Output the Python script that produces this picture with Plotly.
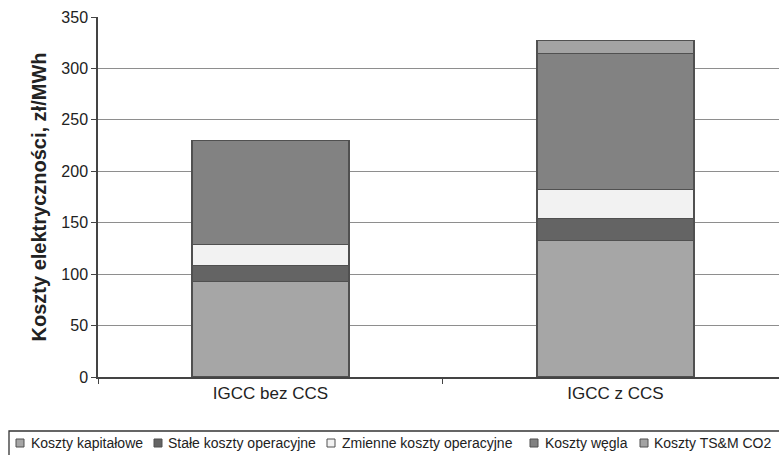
import plotly.graph_objects as go

categories = ["IGCC bez CCS", "IGCC z CCS"]
series_names = ["Koszty kapitałowe", "Stałe koszty operacyjne", "Zmienne koszty operacyjne", "Koszty węgla", "Koszty TS&M CO2"]
kapitalowe = [93, 133]
stale = [15.5, 21]
zmienne = [20, 28.5]
wegiel = [101.5, 132]
tsm = [0, 12.5]
y_ticks = [0, 50, 100, 150, 200, 250, 300, 350]

values = [kapitalowe, stale, zmienne, wegiel, tsm]
colors = ["#a6a6a6", "#646464", "#f2f2f2", "#828282", "#a3a3a3"]

W, H = 779, 455
L, R, T, B = 98, 0, 17, 78
PW, PH = W - L - R, H - T - B

def px(x):
    return (x - L) / PW

def py(y):
    return (H - B - y) / PH

fig = go.Figure()
for name, vals, c in zip(series_names, values, colors):
    fig.add_trace(go.Bar(
        x=categories, y=vals, name=name, width=0.455,
        marker=dict(color=c, line=dict(color="#505050", width=1.2)),
    ))

# manual legend (single row, boxed)
legend_sq = [20, 158, 331, 534, 644]
legend_tx = [29, 166, 340, 543, 652]
ly = 443
shapes = [dict(type="rect", xref="paper", yref="paper",
               x0=px(9), x1=px(800), y0=py(431), y1=py(475),
               line=dict(color="#333333", width=1.3), fillcolor="rgba(0,0,0,0)")]
annotations = []
for name, c, sx, tx in zip(series_names, colors, legend_sq, legend_tx):
    shapes.append(dict(type="rect", xref="paper", yref="paper",
                       x0=px(sx - 4), x1=px(sx + 4), y0=py(ly - 4), y1=py(ly + 4),
                       line=dict(color="#505050", width=1), fillcolor=c))
    annotations.append(dict(text=name, xref="paper", yref="paper",
                            x=px(tx), y=py(ly), xanchor="left", yanchor="middle",
                            showarrow=False,
                            font=dict(family="Liberation Sans, Arial, sans-serif", size=14, color="#222222")))

fig.update_layout(
    barmode="stack",
    width=W, height=H,
    margin=dict(l=L, r=R, t=T, b=B, autoexpand=False),
    paper_bgcolor="white", plot_bgcolor="white",
    font=dict(family="Liberation Sans, Arial, sans-serif", color="#222222"),
    showlegend=False,
    shapes=shapes,
    annotations=annotations,
    xaxis=dict(
        range=[-0.5, 1.474], automargin=False,
        showline=True, linecolor="#444444", linewidth=1.5,
        ticks="outside", tickson="boundaries", ticklen=5, tickcolor="#444444",
        tickfont=dict(size=17, color="#222222"), showgrid=False,
    ),
    yaxis=dict(
        range=[0, 350], tickvals=y_ticks, automargin=False,
        showline=True, linecolor="#444444", linewidth=1.5,
        ticks="outside", ticklen=5, tickcolor="#444444",
        showgrid=True, gridcolor="#8e8e8e", gridwidth=1,
        tickfont=dict(size=16, color="#222222"),
        title=dict(text="<b>Koszty elektryczności, zł/MWh</b>", font=dict(size=20, color="#222222"), standoff=9),
        zeroline=False,
    ),
)

fig.write_html("out.html", config={"displayModeBar": False},
               post_script="document.body.style.margin='0';document.body.style.overflow='hidden';")
